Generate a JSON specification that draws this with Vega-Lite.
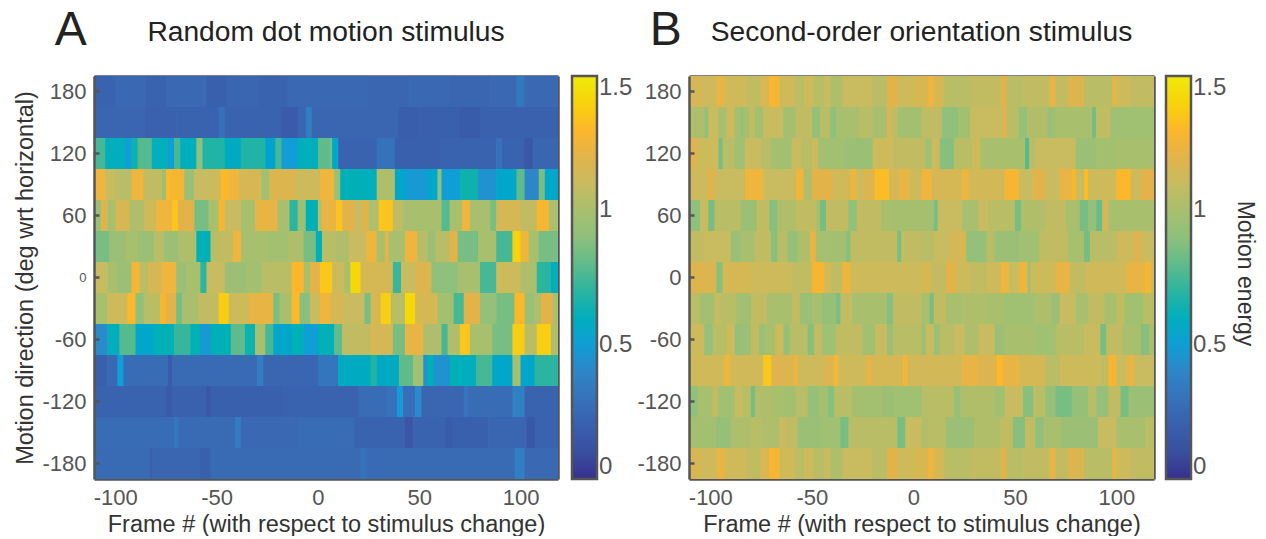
{"$schema":"https://vega.github.io/schema/vega-lite/v6.json","padding":{"left":13,"top":6,"right":10,"bottom":0},"background":"white","bounds":"flush","spacing":131,
"datasets":{
"panelA":[
{"x0":-110.5,"x1":-100,"y":180,"v":0.22},{"x0":-100,"x1":-85,"y":180,"v":0.25},{"x0":-85,"x1":-75,"y":180,"v":0.22},{"x0":-75,"x1":-55,"y":180,"v":0.25},{"x0":-55,"x1":-45,"y":180,"v":0.2},{"x0":-45,"x1":-30,"y":180,"v":0.24},{"x0":-30,"x1":-15,"y":180,"v":0.22},{"x0":-15,"x1":25,"y":180,"v":0.25},{"x0":25,"x1":45,"y":180,"v":0.24},{"x0":45,"x1":65,"y":180,"v":0.25},{"x0":65,"x1":85,"y":180,"v":0.23},{"x0":85,"x1":98,"y":180,"v":0.25},{"x0":98,"x1":102,"y":180,"v":0.33},{"x0":102,"x1":118.5,"y":180,"v":0.25},
{"x0":-110.5,"x1":-85,"y":150,"v":0.23},{"x0":-85,"x1":-70,"y":150,"v":0.21},{"x0":-70,"x1":-49,"y":150,"v":0.22},{"x0":-49,"x1":-46,"y":150,"v":0.3},{"x0":-46,"x1":-18,"y":150,"v":0.22},{"x0":-18,"x1":-10,"y":150,"v":0.17},{"x0":-10,"x1":-6,"y":150,"v":0.24},{"x0":-6,"x1":-3,"y":150,"v":0.36},{"x0":-3,"x1":40,"y":150,"v":0.23},{"x0":40,"x1":50,"y":150,"v":0.19},{"x0":50,"x1":70,"y":150,"v":0.2},{"x0":70,"x1":80,"y":150,"v":0.18},{"x0":80,"x1":118.5,"y":150,"v":0.21},
{"x0":-110.5,"x1":-105,"y":120,"v":0.75},{"x0":-105,"x1":-95,"y":120,"v":0.6},{"x0":-95,"x1":-92,"y":120,"v":0.5},{"x0":-92,"x1":-89,"y":120,"v":0.65},{"x0":-89,"x1":-82,"y":120,"v":0.78},{"x0":-82,"x1":-74,"y":120,"v":0.6},{"x0":-74,"x1":-71,"y":120,"v":0.5},{"x0":-71,"x1":-68,"y":120,"v":0.75},{"x0":-68,"x1":-60,"y":120,"v":0.6},{"x0":-60,"x1":-57,"y":120,"v":0.9},{"x0":-57,"x1":-46,"y":120,"v":0.68},{"x0":-46,"x1":-38,"y":120,"v":0.58},{"x0":-38,"x1":-26,"y":120,"v":0.68},{"x0":-26,"x1":-21,"y":120,"v":0.52},{"x0":-21,"x1":-18,"y":120,"v":0.75},{"x0":-18,"x1":-10,"y":120,"v":0.5},{"x0":-10,"x1":0,"y":120,"v":0.6},{"x0":0,"x1":6,"y":120,"v":0.8},{"x0":6,"x1":7,"y":120,"v":0.85},{"x0":7,"x1":10,"y":120,"v":0.55},{"x0":10,"x1":29,"y":120,"v":0.22},{"x0":29,"x1":38,"y":120,"v":0.3},{"x0":38,"x1":60,"y":120,"v":0.2},{"x0":60,"x1":88,"y":120,"v":0.22},{"x0":88,"x1":91,"y":120,"v":0.3},{"x0":91,"x1":102,"y":120,"v":0.22},{"x0":102,"x1":106,"y":120,"v":0.15},{"x0":106,"x1":118.5,"y":120,"v":0.24},
{"x0":-110.5,"x1":-105,"y":90,"v":1.25},{"x0":-105,"x1":-100,"y":90,"v":1.1},{"x0":-100,"x1":-92,"y":90,"v":1.05},{"x0":-92,"x1":-86,"y":90,"v":1.25},{"x0":-86,"x1":-77,"y":90,"v":1.08},{"x0":-77,"x1":-75,"y":90,"v":0.95},{"x0":-75,"x1":-72,"y":90,"v":1.3},{"x0":-72,"x1":-66,"y":90,"v":1.28},{"x0":-66,"x1":-61,"y":90,"v":0.95},{"x0":-61,"x1":-53,"y":90,"v":1.1},{"x0":-53,"x1":-48,"y":90,"v":1.12},{"x0":-48,"x1":-44,"y":90,"v":1.3},{"x0":-44,"x1":-39,"y":90,"v":1.25},{"x0":-39,"x1":-28,"y":90,"v":1.15},{"x0":-28,"x1":-24,"y":90,"v":0.98},{"x0":-24,"x1":-11,"y":90,"v":1.18},{"x0":-11,"x1":1,"y":90,"v":1.12},{"x0":1,"x1":8,"y":90,"v":1.25},{"x0":8,"x1":11,"y":90,"v":0.95},{"x0":11,"x1":22,"y":90,"v":0.62},{"x0":22,"x1":29,"y":90,"v":0.6},{"x0":29,"x1":38,"y":90,"v":1.02},{"x0":38,"x1":43,"y":90,"v":0.55},{"x0":43,"x1":54,"y":90,"v":0.48},{"x0":54,"x1":59,"y":90,"v":0.55},{"x0":59,"x1":61,"y":90,"v":0.9},{"x0":61,"x1":70,"y":90,"v":0.5},{"x0":70,"x1":79,"y":90,"v":0.65},{"x0":79,"x1":88,"y":90,"v":0.45},{"x0":88,"x1":98,"y":90,"v":0.55},{"x0":98,"x1":102,"y":90,"v":0.8},{"x0":102,"x1":109,"y":90,"v":0.4},{"x0":109,"x1":112,"y":90,"v":0.85},{"x0":112,"x1":118.5,"y":90,"v":0.55},
{"x0":-110.5,"x1":-107,"y":60,"v":0.95},{"x0":-107,"x1":-104,"y":60,"v":1.2},{"x0":-104,"x1":-100,"y":60,"v":1.0},{"x0":-100,"x1":-93,"y":60,"v":1.15},{"x0":-93,"x1":-86,"y":60,"v":1.02},{"x0":-86,"x1":-80,"y":60,"v":1.12},{"x0":-80,"x1":-72,"y":60,"v":1.25},{"x0":-72,"x1":-69,"y":60,"v":1.35},{"x0":-69,"x1":-61,"y":60,"v":1.2},{"x0":-61,"x1":-54,"y":60,"v":0.85},{"x0":-54,"x1":-49,"y":60,"v":1.0},{"x0":-49,"x1":-46,"y":60,"v":1.28},{"x0":-46,"x1":-38,"y":60,"v":1.1},{"x0":-38,"x1":-31,"y":60,"v":1.0},{"x0":-31,"x1":-20,"y":60,"v":1.22},{"x0":-20,"x1":-14,"y":60,"v":1.0},{"x0":-14,"x1":-10,"y":60,"v":0.7},{"x0":-10,"x1":-6,"y":60,"v":0.95},{"x0":-6,"x1":0,"y":60,"v":0.62},{"x0":0,"x1":2,"y":60,"v":1.05},{"x0":2,"x1":9,"y":60,"v":1.22},{"x0":9,"x1":12,"y":60,"v":1.35},{"x0":12,"x1":18,"y":60,"v":1.2},{"x0":18,"x1":22,"y":60,"v":1.1},{"x0":22,"x1":25,"y":60,"v":1.2},{"x0":25,"x1":30,"y":60,"v":1.02},{"x0":30,"x1":37,"y":60,"v":1.35},{"x0":37,"x1":42,"y":60,"v":1.08},{"x0":42,"x1":61,"y":60,"v":1.0},{"x0":61,"x1":65,"y":60,"v":0.78},{"x0":65,"x1":71,"y":60,"v":1.0},{"x0":71,"x1":75,"y":60,"v":1.25},{"x0":75,"x1":85,"y":60,"v":1.0},{"x0":85,"x1":88,"y":60,"v":0.85},{"x0":88,"x1":100,"y":60,"v":1.15},{"x0":100,"x1":108,"y":60,"v":1.08},{"x0":108,"x1":114,"y":60,"v":1.28},{"x0":114,"x1":118.5,"y":60,"v":1.02},
{"x0":-110.5,"x1":-103,"y":30,"v":0.85},{"x0":-103,"x1":-95,"y":30,"v":0.95},{"x0":-95,"x1":-89,"y":30,"v":1.0},{"x0":-89,"x1":-81,"y":30,"v":0.95},{"x0":-81,"x1":-76,"y":30,"v":1.05},{"x0":-76,"x1":-69,"y":30,"v":0.95},{"x0":-69,"x1":-60,"y":30,"v":1.02},{"x0":-60,"x1":-53,"y":30,"v":0.62},{"x0":-53,"x1":-49,"y":30,"v":1.05},{"x0":-49,"x1":-42,"y":30,"v":1.08},{"x0":-42,"x1":-38,"y":30,"v":1.25},{"x0":-38,"x1":-25,"y":30,"v":1.0},{"x0":-25,"x1":-15,"y":30,"v":0.98},{"x0":-15,"x1":-7,"y":30,"v":1.02},{"x0":-7,"x1":-1,"y":30,"v":0.85},{"x0":-1,"x1":2,"y":30,"v":0.6},{"x0":2,"x1":9,"y":30,"v":1.05},{"x0":9,"x1":15,"y":30,"v":1.02},{"x0":15,"x1":24,"y":30,"v":1.1},{"x0":24,"x1":29,"y":30,"v":1.25},{"x0":29,"x1":33,"y":30,"v":1.0},{"x0":33,"x1":35,"y":30,"v":1.2},{"x0":35,"x1":43,"y":30,"v":1.0},{"x0":43,"x1":49,"y":30,"v":1.25},{"x0":49,"x1":54,"y":30,"v":1.05},{"x0":54,"x1":58,"y":30,"v":0.95},{"x0":58,"x1":65,"y":30,"v":1.05},{"x0":65,"x1":69,"y":30,"v":1.2},{"x0":69,"x1":79,"y":30,"v":0.85},{"x0":79,"x1":88,"y":30,"v":1.0},{"x0":88,"x1":96,"y":30,"v":0.75},{"x0":96,"x1":100,"y":30,"v":1.4},{"x0":100,"x1":104,"y":30,"v":1.25},{"x0":104,"x1":109,"y":30,"v":1.0},{"x0":109,"x1":118.5,"y":30,"v":0.85},
{"x0":-110.5,"x1":-104,"y":0,"v":1.1},{"x0":-104,"x1":-99,"y":0,"v":1.0},{"x0":-99,"x1":-92,"y":0,"v":0.95},{"x0":-92,"x1":-88,"y":0,"v":1.28},{"x0":-88,"x1":-84,"y":0,"v":1.05},{"x0":-84,"x1":-77,"y":0,"v":1.15},{"x0":-77,"x1":-70,"y":0,"v":1.25},{"x0":-70,"x1":-65,"y":0,"v":0.95},{"x0":-65,"x1":-58,"y":0,"v":1.0},{"x0":-58,"x1":-55,"y":0,"v":0.7},{"x0":-55,"x1":-46,"y":0,"v":1.1},{"x0":-46,"x1":-36,"y":0,"v":0.95},{"x0":-36,"x1":-28,"y":0,"v":0.98},{"x0":-28,"x1":-13,"y":0,"v":1.05},{"x0":-13,"x1":-7,"y":0,"v":1.3},{"x0":-7,"x1":-4,"y":0,"v":1.0},{"x0":-4,"x1":1,"y":0,"v":1.2},{"x0":1,"x1":7,"y":0,"v":1.36},{"x0":7,"x1":13,"y":0,"v":1.12},{"x0":13,"x1":16,"y":0,"v":1.0},{"x0":16,"x1":21,"y":0,"v":1.42},{"x0":21,"x1":37,"y":0,"v":1.15},{"x0":37,"x1":41,"y":0,"v":0.72},{"x0":41,"x1":48,"y":0,"v":1.1},{"x0":48,"x1":56,"y":0,"v":1.18},{"x0":56,"x1":69,"y":0,"v":0.9},{"x0":69,"x1":80,"y":0,"v":1.0},{"x0":80,"x1":88,"y":0,"v":0.75},{"x0":88,"x1":100,"y":0,"v":1.12},{"x0":100,"x1":108,"y":0,"v":1.02},{"x0":108,"x1":115,"y":0,"v":0.7},{"x0":115,"x1":118.5,"y":0,"v":0.6},
{"x0":-110.5,"x1":-104,"y":-30,"v":1.0},{"x0":-104,"x1":-94,"y":-30,"v":1.12},{"x0":-94,"x1":-90,"y":-30,"v":1.3},{"x0":-90,"x1":-86,"y":-30,"v":0.9},{"x0":-86,"x1":-78,"y":-30,"v":1.05},{"x0":-78,"x1":-75,"y":-30,"v":1.28},{"x0":-75,"x1":-70,"y":-30,"v":1.2},{"x0":-70,"x1":-67,"y":-30,"v":0.85},{"x0":-67,"x1":-59,"y":-30,"v":1.0},{"x0":-59,"x1":-49,"y":-30,"v":1.08},{"x0":-49,"x1":-44,"y":-30,"v":1.38},{"x0":-44,"x1":-34,"y":-30,"v":1.12},{"x0":-34,"x1":-22,"y":-30,"v":1.22},{"x0":-22,"x1":-19,"y":-30,"v":0.85},{"x0":-19,"x1":-13,"y":-30,"v":1.0},{"x0":-13,"x1":-9,"y":-30,"v":1.3},{"x0":-9,"x1":-4,"y":-30,"v":0.88},{"x0":-4,"x1":1,"y":-30,"v":1.1},{"x0":1,"x1":6,"y":-30,"v":1.25},{"x0":6,"x1":13,"y":-30,"v":1.15},{"x0":13,"x1":23,"y":-30,"v":1.1},{"x0":23,"x1":26,"y":-30,"v":0.85},{"x0":26,"x1":31,"y":-30,"v":1.15},{"x0":31,"x1":36,"y":-30,"v":1.38},{"x0":36,"x1":43,"y":-30,"v":1.05},{"x0":43,"x1":48,"y":-30,"v":1.42},{"x0":48,"x1":59,"y":-30,"v":1.15},{"x0":59,"x1":67,"y":-30,"v":0.98},{"x0":67,"x1":72,"y":-30,"v":0.75},{"x0":72,"x1":80,"y":-30,"v":1.2},{"x0":80,"x1":88,"y":-30,"v":0.92},{"x0":88,"x1":97,"y":-30,"v":0.85},{"x0":97,"x1":102,"y":-30,"v":1.3},{"x0":102,"x1":107,"y":-30,"v":0.95},{"x0":107,"x1":110,"y":-30,"v":1.02},{"x0":110,"x1":116,"y":-30,"v":1.2},{"x0":116,"x1":118.5,"y":-30,"v":1.0},
{"x0":-110.5,"x1":-104,"y":-60,"v":0.42},{"x0":-104,"x1":-98,"y":-60,"v":0.6},{"x0":-98,"x1":-90,"y":-60,"v":0.78},{"x0":-90,"x1":-81,"y":-60,"v":0.55},{"x0":-81,"x1":-71,"y":-60,"v":0.62},{"x0":-71,"x1":-63,"y":-60,"v":0.72},{"x0":-63,"x1":-58,"y":-60,"v":0.62},{"x0":-58,"x1":-53,"y":-60,"v":0.48},{"x0":-53,"x1":-43,"y":-60,"v":0.62},{"x0":-43,"x1":-36,"y":-60,"v":0.8},{"x0":-36,"x1":-31,"y":-60,"v":0.65},{"x0":-31,"x1":-26,"y":-60,"v":1.0},{"x0":-26,"x1":-22,"y":-60,"v":0.75},{"x0":-22,"x1":-13,"y":-60,"v":0.55},{"x0":-13,"x1":-7,"y":-60,"v":0.62},{"x0":-7,"x1":0,"y":-60,"v":0.5},{"x0":0,"x1":8,"y":-60,"v":0.62},{"x0":8,"x1":12,"y":-60,"v":0.8},{"x0":12,"x1":26,"y":-60,"v":1.08},{"x0":26,"x1":37,"y":-60,"v":1.15},{"x0":37,"x1":43,"y":-60,"v":0.85},{"x0":43,"x1":52,"y":-60,"v":1.22},{"x0":52,"x1":61,"y":-60,"v":1.02},{"x0":61,"x1":64,"y":-60,"v":0.75},{"x0":64,"x1":70,"y":-60,"v":1.02},{"x0":70,"x1":75,"y":-60,"v":1.35},{"x0":75,"x1":86,"y":-60,"v":1.0},{"x0":86,"x1":96,"y":-60,"v":0.85},{"x0":96,"x1":102,"y":-60,"v":1.38},{"x0":102,"x1":108,"y":-60,"v":1.05},{"x0":108,"x1":115,"y":-60,"v":1.38},{"x0":115,"x1":118.5,"y":-60,"v":1.02},
{"x0":-110.5,"x1":-104,"y":-90,"v":0.2},{"x0":-104,"x1":-99,"y":-90,"v":0.25},{"x0":-99,"x1":-96,"y":-90,"v":0.5},{"x0":-96,"x1":-74,"y":-90,"v":0.27},{"x0":-74,"x1":-72,"y":-90,"v":0.18},{"x0":-72,"x1":-30,"y":-90,"v":0.26},{"x0":-30,"x1":-27,"y":-90,"v":0.35},{"x0":-27,"x1":0,"y":-90,"v":0.24},{"x0":0,"x1":10,"y":-90,"v":0.32},{"x0":10,"x1":26,"y":-90,"v":0.58},{"x0":26,"x1":29,"y":-90,"v":0.68},{"x0":29,"x1":40,"y":-90,"v":0.58},{"x0":40,"x1":47,"y":-90,"v":0.8},{"x0":47,"x1":52,"y":-90,"v":0.98},{"x0":52,"x1":54,"y":-90,"v":0.45},{"x0":54,"x1":57,"y":-90,"v":0.62},{"x0":57,"x1":65,"y":-90,"v":0.45},{"x0":65,"x1":69,"y":-90,"v":0.62},{"x0":69,"x1":78,"y":-90,"v":0.6},{"x0":78,"x1":86,"y":-90,"v":0.75},{"x0":86,"x1":96,"y":-90,"v":0.55},{"x0":96,"x1":100,"y":-90,"v":0.98},{"x0":100,"x1":107,"y":-90,"v":0.55},{"x0":107,"x1":118.5,"y":-90,"v":0.7},
{"x0":-110.5,"x1":-75,"y":-120,"v":0.22},{"x0":-75,"x1":-72,"y":-120,"v":0.17},{"x0":-72,"x1":-55,"y":-120,"v":0.21},{"x0":-55,"x1":-53,"y":-120,"v":0.15},{"x0":-53,"x1":-18,"y":-120,"v":0.2},{"x0":-18,"x1":20,"y":-120,"v":0.22},{"x0":20,"x1":34,"y":-120,"v":0.27},{"x0":34,"x1":39,"y":-120,"v":0.3},{"x0":39,"x1":42,"y":-120,"v":0.48},{"x0":42,"x1":48,"y":-120,"v":0.28},{"x0":48,"x1":51,"y":-120,"v":0.42},{"x0":51,"x1":72,"y":-120,"v":0.24},{"x0":72,"x1":74,"y":-120,"v":0.32},{"x0":74,"x1":96,"y":-120,"v":0.27},{"x0":96,"x1":102,"y":-120,"v":0.37},{"x0":102,"x1":118.5,"y":-120,"v":0.22},
{"x0":-110.5,"x1":-71,"y":-150,"v":0.27},{"x0":-71,"x1":-69,"y":-150,"v":0.33},{"x0":-69,"x1":-41,"y":-150,"v":0.26},{"x0":-41,"x1":-38,"y":-150,"v":0.35},{"x0":-38,"x1":-10,"y":-150,"v":0.25},{"x0":-10,"x1":18,"y":-150,"v":0.27},{"x0":18,"x1":43,"y":-150,"v":0.22},{"x0":43,"x1":47,"y":-150,"v":0.14},{"x0":47,"x1":63,"y":-150,"v":0.22},{"x0":63,"x1":66,"y":-150,"v":0.18},{"x0":66,"x1":84,"y":-150,"v":0.2},{"x0":84,"x1":103,"y":-150,"v":0.23},{"x0":103,"x1":107,"y":-150,"v":0.16},{"x0":107,"x1":118.5,"y":-150,"v":0.22},
{"x0":-110.5,"x1":-83,"y":-180,"v":0.26},{"x0":-83,"x1":-82,"y":-180,"v":0.2},{"x0":-82,"x1":-58,"y":-180,"v":0.24},{"x0":-58,"x1":-53,"y":-180,"v":0.2},{"x0":-53,"x1":21,"y":-180,"v":0.26},{"x0":21,"x1":24,"y":-180,"v":0.3},{"x0":24,"x1":97,"y":-180,"v":0.26},{"x0":97,"x1":102,"y":-180,"v":0.36},{"x0":102,"x1":118.5,"y":-180,"v":0.25}
],
"panelB":[
{"x0":-110.5,"x1":-104,"y":180,"v":1.15},{"x0":-104,"x1":-97,"y":180,"v":1.12},{"x0":-97,"x1":-93,"y":180,"v":1.22},{"x0":-93,"x1":-82,"y":180,"v":1.13},{"x0":-82,"x1":-75,"y":180,"v":1.08},{"x0":-75,"x1":-71,"y":180,"v":1.17},{"x0":-71,"x1":-66,"y":180,"v":1.28},{"x0":-66,"x1":-58,"y":180,"v":1.13},{"x0":-58,"x1":-54,"y":180,"v":1.05},{"x0":-54,"x1":-49,"y":180,"v":1.12},{"x0":-49,"x1":-44,"y":180,"v":1.05},{"x0":-44,"x1":-41,"y":180,"v":1.1},{"x0":-41,"x1":-35,"y":180,"v":1.02},{"x0":-35,"x1":-20,"y":180,"v":1.1},{"x0":-20,"x1":-13,"y":180,"v":1.05},{"x0":-13,"x1":-8,"y":180,"v":1.2},{"x0":-8,"x1":0,"y":180,"v":1.12},{"x0":0,"x1":7,"y":180,"v":1.16},{"x0":7,"x1":10,"y":180,"v":1.25},{"x0":10,"x1":15,"y":180,"v":1.15},{"x0":15,"x1":28,"y":180,"v":1.05},{"x0":28,"x1":43,"y":180,"v":1.08},{"x0":43,"x1":46,"y":180,"v":1.2},{"x0":46,"x1":54,"y":180,"v":1.05},{"x0":54,"x1":67,"y":180,"v":1.08},{"x0":67,"x1":70,"y":180,"v":1.22},{"x0":70,"x1":76,"y":180,"v":1.08},{"x0":76,"x1":84,"y":180,"v":1.18},{"x0":84,"x1":98,"y":180,"v":1.05},{"x0":98,"x1":100,"y":180,"v":1.22},{"x0":100,"x1":107,"y":180,"v":1.12},{"x0":107,"x1":118.5,"y":180,"v":1.08},
{"x0":-110.5,"x1":-103,"y":150,"v":1.02},{"x0":-103,"x1":-101,"y":150,"v":0.92},{"x0":-101,"x1":-96,"y":150,"v":1.1},{"x0":-96,"x1":-92,"y":150,"v":1.0},{"x0":-92,"x1":-88,"y":150,"v":1.12},{"x0":-88,"x1":-85,"y":150,"v":0.98},{"x0":-85,"x1":-84,"y":150,"v":0.92},{"x0":-84,"x1":-81,"y":150,"v":0.98},{"x0":-81,"x1":-78,"y":150,"v":1.08},{"x0":-78,"x1":-74,"y":150,"v":0.98},{"x0":-74,"x1":-64,"y":150,"v":1.1},{"x0":-64,"x1":-58,"y":150,"v":0.98},{"x0":-58,"x1":-50,"y":150,"v":1.08},{"x0":-50,"x1":-46,"y":150,"v":0.93},{"x0":-46,"x1":-41,"y":150,"v":1.05},{"x0":-41,"x1":-38,"y":150,"v":0.9},{"x0":-38,"x1":-27,"y":150,"v":1.0},{"x0":-27,"x1":-20,"y":150,"v":1.05},{"x0":-20,"x1":-13,"y":150,"v":1.0},{"x0":-13,"x1":-11,"y":150,"v":1.18},{"x0":-11,"x1":-8,"y":150,"v":1.08},{"x0":-8,"x1":4,"y":150,"v":0.98},{"x0":4,"x1":14,"y":150,"v":1.08},{"x0":14,"x1":22,"y":150,"v":0.9},{"x0":22,"x1":28,"y":150,"v":0.98},{"x0":28,"x1":44,"y":150,"v":1.1},{"x0":44,"x1":46,"y":150,"v":1.2},{"x0":46,"x1":52,"y":150,"v":1.05},{"x0":52,"x1":56,"y":150,"v":0.92},{"x0":56,"x1":66,"y":150,"v":1.03},{"x0":66,"x1":70,"y":150,"v":0.95},{"x0":70,"x1":88,"y":150,"v":1.0},{"x0":88,"x1":90,"y":150,"v":0.85},{"x0":90,"x1":97,"y":150,"v":1.08},{"x0":97,"x1":118.5,"y":150,"v":0.97},
{"x0":-110.5,"x1":-107,"y":120,"v":1.2},{"x0":-107,"x1":-96,"y":120,"v":1.12},{"x0":-96,"x1":-94,"y":120,"v":0.85},{"x0":-94,"x1":-88,"y":120,"v":1.05},{"x0":-88,"x1":-83,"y":120,"v":0.97},{"x0":-83,"x1":-75,"y":120,"v":1.1},{"x0":-75,"x1":-70,"y":120,"v":1.05},{"x0":-70,"x1":-60,"y":120,"v":0.98},{"x0":-60,"x1":-55,"y":120,"v":1.1},{"x0":-55,"x1":-50,"y":120,"v":1.05},{"x0":-50,"x1":-47,"y":120,"v":1.12},{"x0":-47,"x1":-33,"y":120,"v":0.98},{"x0":-33,"x1":-20,"y":120,"v":0.95},{"x0":-20,"x1":-10,"y":120,"v":1.12},{"x0":-10,"x1":6,"y":120,"v":1.08},{"x0":6,"x1":9,"y":120,"v":0.97},{"x0":9,"x1":13,"y":120,"v":1.12},{"x0":13,"x1":20,"y":120,"v":0.88},{"x0":20,"x1":29,"y":120,"v":1.05},{"x0":29,"x1":33,"y":120,"v":1.13},{"x0":33,"x1":55,"y":120,"v":1.0},{"x0":55,"x1":57,"y":120,"v":0.78},{"x0":57,"x1":60,"y":120,"v":1.05},{"x0":60,"x1":80,"y":120,"v":1.1},{"x0":80,"x1":90,"y":120,"v":0.95},{"x0":90,"x1":100,"y":120,"v":0.98},{"x0":100,"x1":118.5,"y":120,"v":1.0},
{"x0":-110.5,"x1":-101,"y":90,"v":1.12},{"x0":-101,"x1":-98,"y":90,"v":1.2},{"x0":-98,"x1":-83,"y":90,"v":1.1},{"x0":-83,"x1":-74,"y":90,"v":1.25},{"x0":-74,"x1":-58,"y":90,"v":1.1},{"x0":-58,"x1":-54,"y":90,"v":1.25},{"x0":-54,"x1":-50,"y":90,"v":1.02},{"x0":-50,"x1":-40,"y":90,"v":1.2},{"x0":-40,"x1":-31,"y":90,"v":1.13},{"x0":-31,"x1":-28,"y":90,"v":1.25},{"x0":-28,"x1":-25,"y":90,"v":1.1},{"x0":-25,"x1":-19,"y":90,"v":1.18},{"x0":-19,"x1":-12,"y":90,"v":1.32},{"x0":-12,"x1":-7,"y":90,"v":1.15},{"x0":-7,"x1":-2,"y":90,"v":1.22},{"x0":-2,"x1":4,"y":90,"v":1.12},{"x0":4,"x1":9,"y":90,"v":1.25},{"x0":9,"x1":24,"y":90,"v":1.15},{"x0":24,"x1":27,"y":90,"v":1.25},{"x0":27,"x1":45,"y":90,"v":1.14},{"x0":45,"x1":52,"y":90,"v":1.28},{"x0":52,"x1":59,"y":90,"v":1.1},{"x0":59,"x1":65,"y":90,"v":1.2},{"x0":65,"x1":72,"y":90,"v":1.1},{"x0":72,"x1":78,"y":90,"v":1.22},{"x0":78,"x1":80,"y":90,"v":1.3},{"x0":80,"x1":84,"y":90,"v":1.1},{"x0":84,"x1":86,"y":90,"v":1.32},{"x0":86,"x1":100,"y":90,"v":1.12},{"x0":100,"x1":107,"y":90,"v":1.3},{"x0":107,"x1":112,"y":90,"v":1.12},{"x0":112,"x1":118.5,"y":90,"v":1.2},
{"x0":-110.5,"x1":-105,"y":60,"v":0.9},{"x0":-105,"x1":-101,"y":60,"v":1.1},{"x0":-101,"x1":-98,"y":60,"v":0.85},{"x0":-98,"x1":-85,"y":60,"v":1.05},{"x0":-85,"x1":-77,"y":60,"v":0.95},{"x0":-77,"x1":-71,"y":60,"v":1.08},{"x0":-71,"x1":-67,"y":60,"v":0.88},{"x0":-67,"x1":-58,"y":60,"v":1.02},{"x0":-58,"x1":-48,"y":60,"v":1.08},{"x0":-48,"x1":-46,"y":60,"v":1.0},{"x0":-46,"x1":-43,"y":60,"v":0.85},{"x0":-43,"x1":-32,"y":60,"v":1.08},{"x0":-32,"x1":-28,"y":60,"v":0.9},{"x0":-28,"x1":-16,"y":60,"v":1.08},{"x0":-16,"x1":-10,"y":60,"v":1.0},{"x0":-10,"x1":10,"y":60,"v":0.99},{"x0":10,"x1":12,"y":60,"v":0.85},{"x0":12,"x1":24,"y":60,"v":1.1},{"x0":24,"x1":32,"y":60,"v":1.0},{"x0":32,"x1":37,"y":60,"v":1.1},{"x0":37,"x1":50,"y":60,"v":1.05},{"x0":50,"x1":53,"y":60,"v":0.85},{"x0":53,"x1":65,"y":60,"v":1.03},{"x0":65,"x1":75,"y":60,"v":1.08},{"x0":75,"x1":82,"y":60,"v":1.0},{"x0":82,"x1":86,"y":60,"v":0.85},{"x0":86,"x1":90,"y":60,"v":0.92},{"x0":90,"x1":93,"y":60,"v":0.82},{"x0":93,"x1":96,"y":60,"v":1.15},{"x0":96,"x1":118.5,"y":60,"v":1.0},
{"x0":-110.5,"x1":-103,"y":30,"v":1.08},{"x0":-103,"x1":-90,"y":30,"v":1.1},{"x0":-90,"x1":-85,"y":30,"v":0.95},{"x0":-85,"x1":-78,"y":30,"v":1.0},{"x0":-78,"x1":-70,"y":30,"v":1.08},{"x0":-70,"x1":-67,"y":30,"v":0.88},{"x0":-67,"x1":-62,"y":30,"v":1.05},{"x0":-62,"x1":-57,"y":30,"v":0.92},{"x0":-57,"x1":-51,"y":30,"v":1.02},{"x0":-51,"x1":-48,"y":30,"v":1.22},{"x0":-48,"x1":-44,"y":30,"v":1.0},{"x0":-44,"x1":-33,"y":30,"v":0.98},{"x0":-33,"x1":-31,"y":30,"v":0.88},{"x0":-31,"x1":-8,"y":30,"v":1.08},{"x0":-8,"x1":-6,"y":30,"v":0.85},{"x0":-6,"x1":4,"y":30,"v":1.08},{"x0":4,"x1":10,"y":30,"v":1.05},{"x0":10,"x1":18,"y":30,"v":1.1},{"x0":18,"x1":26,"y":30,"v":1.15},{"x0":26,"x1":36,"y":30,"v":0.92},{"x0":36,"x1":40,"y":30,"v":1.05},{"x0":40,"x1":52,"y":30,"v":0.95},{"x0":52,"x1":62,"y":30,"v":0.97},{"x0":62,"x1":76,"y":30,"v":1.08},{"x0":76,"x1":84,"y":30,"v":1.0},{"x0":84,"x1":87,"y":30,"v":0.85},{"x0":87,"x1":100,"y":30,"v":1.05},{"x0":100,"x1":109,"y":30,"v":1.12},{"x0":109,"x1":112,"y":30,"v":1.2},{"x0":112,"x1":118.5,"y":30,"v":1.1},
{"x0":-110.5,"x1":-97,"y":0,"v":1.18},{"x0":-97,"x1":-94,"y":0,"v":0.88},{"x0":-94,"x1":-80,"y":0,"v":1.15},{"x0":-80,"x1":-60,"y":0,"v":1.12},{"x0":-60,"x1":-50,"y":0,"v":1.08},{"x0":-50,"x1":-44,"y":0,"v":1.28},{"x0":-44,"x1":-41,"y":0,"v":1.15},{"x0":-41,"x1":-35,"y":0,"v":1.08},{"x0":-35,"x1":-31,"y":0,"v":1.25},{"x0":-31,"x1":4,"y":0,"v":1.12},{"x0":4,"x1":9,"y":0,"v":1.15},{"x0":9,"x1":16,"y":0,"v":1.08},{"x0":16,"x1":21,"y":0,"v":1.2},{"x0":21,"x1":28,"y":0,"v":1.12},{"x0":28,"x1":36,"y":0,"v":1.08},{"x0":36,"x1":43,"y":0,"v":1.12},{"x0":43,"x1":47,"y":0,"v":1.25},{"x0":47,"x1":52,"y":0,"v":1.1},{"x0":52,"x1":56,"y":0,"v":1.25},{"x0":56,"x1":58,"y":0,"v":1.0},{"x0":58,"x1":70,"y":0,"v":1.12},{"x0":70,"x1":77,"y":0,"v":1.22},{"x0":77,"x1":85,"y":0,"v":1.08},{"x0":85,"x1":105,"y":0,"v":1.13},{"x0":105,"x1":114,"y":0,"v":1.22},{"x0":114,"x1":117,"y":0,"v":1.28},{"x0":117,"x1":118.5,"y":0,"v":1.12},
{"x0":-110.5,"x1":-105,"y":-30,"v":1.05},{"x0":-105,"x1":-98,"y":-30,"v":0.98},{"x0":-98,"x1":-95,"y":-30,"v":1.1},{"x0":-95,"x1":-87,"y":-30,"v":1.05},{"x0":-87,"x1":-80,"y":-30,"v":0.97},{"x0":-80,"x1":-72,"y":-30,"v":1.08},{"x0":-72,"x1":-60,"y":-30,"v":1.0},{"x0":-60,"x1":-56,"y":-30,"v":1.08},{"x0":-56,"x1":-50,"y":-30,"v":0.95},{"x0":-50,"x1":-45,"y":-30,"v":1.0},{"x0":-45,"x1":-38,"y":-30,"v":0.93},{"x0":-38,"x1":-36,"y":-30,"v":0.85},{"x0":-36,"x1":-30,"y":-30,"v":1.08},{"x0":-30,"x1":-13,"y":-30,"v":1.0},{"x0":-13,"x1":-10,"y":-30,"v":0.88},{"x0":-10,"x1":4,"y":-30,"v":1.08},{"x0":4,"x1":8,"y":-30,"v":1.0},{"x0":8,"x1":10,"y":-30,"v":0.85},{"x0":10,"x1":16,"y":-30,"v":1.08},{"x0":16,"x1":24,"y":-30,"v":1.0},{"x0":24,"x1":36,"y":-30,"v":1.02},{"x0":36,"x1":45,"y":-30,"v":1.0},{"x0":45,"x1":60,"y":-30,"v":0.97},{"x0":60,"x1":68,"y":-30,"v":1.02},{"x0":68,"x1":72,"y":-30,"v":0.95},{"x0":72,"x1":80,"y":-30,"v":1.1},{"x0":80,"x1":86,"y":-30,"v":1.0},{"x0":86,"x1":94,"y":-30,"v":1.08},{"x0":94,"x1":100,"y":-30,"v":1.0},{"x0":100,"x1":104,"y":-30,"v":1.08},{"x0":104,"x1":113,"y":-30,"v":0.97},{"x0":113,"x1":118.5,"y":-30,"v":1.05},
{"x0":-110.5,"x1":-103,"y":-60,"v":1.12},{"x0":-103,"x1":-99,"y":-60,"v":0.92},{"x0":-99,"x1":-92,"y":-60,"v":1.05},{"x0":-92,"x1":-88,"y":-60,"v":1.12},{"x0":-88,"x1":-85,"y":-60,"v":0.92},{"x0":-85,"x1":-80,"y":-60,"v":0.95},{"x0":-80,"x1":-76,"y":-60,"v":1.08},{"x0":-76,"x1":-73,"y":-60,"v":0.95},{"x0":-73,"x1":-68,"y":-60,"v":1.0},{"x0":-68,"x1":-64,"y":-60,"v":1.12},{"x0":-64,"x1":-61,"y":-60,"v":0.92},{"x0":-61,"x1":-52,"y":-60,"v":1.05},{"x0":-52,"x1":-49,"y":-60,"v":0.88},{"x0":-49,"x1":-45,"y":-60,"v":1.08},{"x0":-45,"x1":-38,"y":-60,"v":0.97},{"x0":-38,"x1":-25,"y":-60,"v":1.08},{"x0":-25,"x1":-19,"y":-60,"v":0.97},{"x0":-19,"x1":-13,"y":-60,"v":1.1},{"x0":-13,"x1":-10,"y":-60,"v":0.95},{"x0":-10,"x1":4,"y":-60,"v":1.05},{"x0":4,"x1":6,"y":-60,"v":0.95},{"x0":6,"x1":10,"y":-60,"v":1.1},{"x0":10,"x1":13,"y":-60,"v":0.95},{"x0":13,"x1":20,"y":-60,"v":1.05},{"x0":20,"x1":25,"y":-60,"v":1.1},{"x0":25,"x1":32,"y":-60,"v":1.02},{"x0":32,"x1":40,"y":-60,"v":1.1},{"x0":40,"x1":45,"y":-60,"v":0.95},{"x0":45,"x1":60,"y":-60,"v":1.0},{"x0":60,"x1":70,"y":-60,"v":0.97},{"x0":70,"x1":84,"y":-60,"v":1.05},{"x0":84,"x1":92,"y":-60,"v":1.1},{"x0":92,"x1":95,"y":-60,"v":0.85},{"x0":95,"x1":103,"y":-60,"v":1.08},{"x0":103,"x1":112,"y":-60,"v":1.0},{"x0":112,"x1":116,"y":-60,"v":0.88},{"x0":116,"x1":118.5,"y":-60,"v":1.0},
{"x0":-110.5,"x1":-93,"y":-90,"v":1.13},{"x0":-93,"x1":-90,"y":-90,"v":1.25},{"x0":-90,"x1":-74,"y":-90,"v":1.13},{"x0":-74,"x1":-70,"y":-90,"v":1.36},{"x0":-70,"x1":-59,"y":-90,"v":1.18},{"x0":-59,"x1":-57,"y":-90,"v":1.24},{"x0":-57,"x1":-44,"y":-90,"v":1.12},{"x0":-44,"x1":-39,"y":-90,"v":1.18},{"x0":-39,"x1":-37,"y":-90,"v":1.28},{"x0":-37,"x1":-23,"y":-90,"v":1.12},{"x0":-23,"x1":-21,"y":-90,"v":1.22},{"x0":-21,"x1":-5,"y":-90,"v":1.15},{"x0":-5,"x1":-3,"y":-90,"v":1.28},{"x0":-3,"x1":24,"y":-90,"v":1.14},{"x0":24,"x1":32,"y":-90,"v":1.22},{"x0":32,"x1":41,"y":-90,"v":1.18},{"x0":41,"x1":44,"y":-90,"v":1.3},{"x0":44,"x1":52,"y":-90,"v":1.22},{"x0":52,"x1":65,"y":-90,"v":1.15},{"x0":65,"x1":72,"y":-90,"v":1.05},{"x0":72,"x1":92,"y":-90,"v":1.12},{"x0":92,"x1":96,"y":-90,"v":1.08},{"x0":96,"x1":100,"y":-90,"v":1.28},{"x0":100,"x1":105,"y":-90,"v":1.1},{"x0":105,"x1":109,"y":-90,"v":1.22},{"x0":109,"x1":118.5,"y":-90,"v":1.1},
{"x0":-110.5,"x1":-106,"y":-120,"v":0.92},{"x0":-106,"x1":-99,"y":-120,"v":1.0},{"x0":-99,"x1":-96,"y":-120,"v":1.08},{"x0":-96,"x1":-88,"y":-120,"v":0.97},{"x0":-88,"x1":-84,"y":-120,"v":1.1},{"x0":-84,"x1":-80,"y":-120,"v":1.05},{"x0":-80,"x1":-78,"y":-120,"v":0.85},{"x0":-78,"x1":-70,"y":-120,"v":1.03},{"x0":-70,"x1":-64,"y":-120,"v":1.0},{"x0":-64,"x1":-58,"y":-120,"v":0.98},{"x0":-58,"x1":-52,"y":-120,"v":1.05},{"x0":-52,"x1":-47,"y":-120,"v":0.93},{"x0":-47,"x1":-42,"y":-120,"v":0.98},{"x0":-42,"x1":-39,"y":-120,"v":0.88},{"x0":-39,"x1":-30,"y":-120,"v":1.05},{"x0":-30,"x1":-15,"y":-120,"v":0.98},{"x0":-15,"x1":-10,"y":-120,"v":0.95},{"x0":-10,"x1":4,"y":-120,"v":0.97},{"x0":4,"x1":20,"y":-120,"v":1.05},{"x0":20,"x1":23,"y":-120,"v":0.93},{"x0":23,"x1":40,"y":-120,"v":1.03},{"x0":40,"x1":45,"y":-120,"v":0.97},{"x0":45,"x1":54,"y":-120,"v":1.1},{"x0":54,"x1":59,"y":-120,"v":0.88},{"x0":59,"x1":65,"y":-120,"v":1.05},{"x0":65,"x1":70,"y":-120,"v":0.93},{"x0":70,"x1":78,"y":-120,"v":0.85},{"x0":78,"x1":86,"y":-120,"v":0.93},{"x0":86,"x1":90,"y":-120,"v":1.05},{"x0":90,"x1":96,"y":-120,"v":0.93},{"x0":96,"x1":102,"y":-120,"v":1.08},{"x0":102,"x1":106,"y":-120,"v":0.85},{"x0":106,"x1":118.5,"y":-120,"v":0.95},
{"x0":-110.5,"x1":-97,"y":-150,"v":0.98},{"x0":-97,"x1":-90,"y":-150,"v":0.93},{"x0":-90,"x1":-80,"y":-150,"v":1.02},{"x0":-80,"x1":-75,"y":-150,"v":1.05},{"x0":-75,"x1":-66,"y":-150,"v":1.02},{"x0":-66,"x1":-63,"y":-150,"v":1.1},{"x0":-63,"x1":-57,"y":-150,"v":1.08},{"x0":-57,"x1":-45,"y":-150,"v":0.95},{"x0":-45,"x1":-36,"y":-150,"v":0.97},{"x0":-36,"x1":-32,"y":-150,"v":0.85},{"x0":-32,"x1":-8,"y":-150,"v":1.05},{"x0":-8,"x1":-4,"y":-150,"v":0.85},{"x0":-4,"x1":4,"y":-150,"v":1.1},{"x0":4,"x1":7,"y":-150,"v":1.02},{"x0":7,"x1":16,"y":-150,"v":1.05},{"x0":16,"x1":30,"y":-150,"v":0.95},{"x0":30,"x1":43,"y":-150,"v":1.03},{"x0":43,"x1":49,"y":-150,"v":1.08},{"x0":49,"x1":55,"y":-150,"v":0.88},{"x0":55,"x1":60,"y":-150,"v":1.08},{"x0":60,"x1":64,"y":-150,"v":0.9},{"x0":64,"x1":73,"y":-150,"v":1.0},{"x0":73,"x1":91,"y":-150,"v":0.95},{"x0":91,"x1":100,"y":-150,"v":1.1},{"x0":100,"x1":114,"y":-150,"v":1.0},{"x0":114,"x1":118.5,"y":-150,"v":1.05},
{"x0":-110.5,"x1":-104,"y":-180,"v":1.15},{"x0":-104,"x1":-97,"y":-180,"v":1.12},{"x0":-97,"x1":-93,"y":-180,"v":1.22},{"x0":-93,"x1":-82,"y":-180,"v":1.13},{"x0":-82,"x1":-75,"y":-180,"v":1.08},{"x0":-75,"x1":-71,"y":-180,"v":1.17},{"x0":-71,"x1":-66,"y":-180,"v":1.28},{"x0":-66,"x1":-58,"y":-180,"v":1.13},{"x0":-58,"x1":-54,"y":-180,"v":1.05},{"x0":-54,"x1":-49,"y":-180,"v":1.12},{"x0":-49,"x1":-44,"y":-180,"v":1.05},{"x0":-44,"x1":-41,"y":-180,"v":1.1},{"x0":-41,"x1":-35,"y":-180,"v":1.02},{"x0":-35,"x1":-20,"y":-180,"v":1.1},{"x0":-20,"x1":-13,"y":-180,"v":1.05},{"x0":-13,"x1":-8,"y":-180,"v":1.2},{"x0":-8,"x1":0,"y":-180,"v":1.12},{"x0":0,"x1":7,"y":-180,"v":1.16},{"x0":7,"x1":10,"y":-180,"v":1.25},{"x0":10,"x1":15,"y":-180,"v":1.15},{"x0":15,"x1":28,"y":-180,"v":1.05},{"x0":28,"x1":43,"y":-180,"v":1.08},{"x0":43,"x1":46,"y":-180,"v":1.2},{"x0":46,"x1":54,"y":-180,"v":1.05},{"x0":54,"x1":67,"y":-180,"v":1.08},{"x0":67,"x1":70,"y":-180,"v":1.22},{"x0":70,"x1":76,"y":-180,"v":1.08},{"x0":76,"x1":84,"y":-180,"v":1.18},{"x0":84,"x1":98,"y":-180,"v":1.05},{"x0":98,"x1":100,"y":-180,"v":1.22},{"x0":100,"x1":107,"y":-180,"v":1.12},{"x0":107,"x1":118.5,"y":-180,"v":1.08}
]
},
"config":{"view":{"stroke":null},"font":"Liberation Sans",
"axis":{"grid":false,"domainColor":"#555555","domainWidth":2.5,"tickColor":"#555555","tickWidth":2.5,"tickSize":-5,"labelColor":"#555555","titleColor":"#333333","labelFont":"Liberation Sans","titleFont":"Liberation Sans","labelFontSize":22,"titleFontSize":23.5,"titleFontWeight":"normal","labelPadding":13},
"title":{"font":"Liberation Sans","fontSize":28.2,"fontWeight":"normal","color":"#222222","anchor":"middle","offset":-41},
"legend":{"offset":12,"gradientLength":403,"gradientThickness":25,"gradientStrokeColor":"#555555","gradientStrokeWidth":2.5,"labelFontSize":24,"labelColor":"#555555","labelFont":"Liberation Sans","labelOverlap":false,"labelOffset":14}},
"resolve":{"scale":{"color":"independent"},"legend":{"color":"independent"}},
"hconcat":[
{"width":464,"height":403,"title":"Random dot motion stimulus","resolve":{"axis":{"x":"independent","y":"independent"}},
"layer":[
{"data":{"name":"panelA"},"mark":{"type":"rect","stroke":null,"x2Offset":0.7,"clip":true},
"encoding":{
"x":{"field":"x0","type":"quantitative","scale":{"domain":[-110.5,118.5],"nice":false,"zero":false},"axis":{"values":[-100,-50,0,50,100],"labelExpr":"toString(datum.value)","title":"Frame # (with respect to stimulus change)","titlePadding":4,"labelFlush":false}},
"x2":{"field":"x1"},
"y":{"field":"y","type":"ordinal","scale":{"domain":[180,150,120,90,60,30,0,-30,-60,-90,-120,-150,-180],"paddingInner":0,"paddingOuter":0},"axis":{"values":[180,120,60,0,-60,-120,-180],"labelAngle":0,"title":"Motion direction (deg wrt horizontal)","titlePadding":4,"labelFontSize":{"expr":"datum.value===0?13:22"}}},
"color":{"field":"v","type":"quantitative","scale":{"domain":[0,0.1,0.25,0.4,0.5,0.6,0.7,0.8,0.9,1,1.1,1.2,1.3,1.4,1.5],"range":["#37308c","#3a4fa0","#3a68b2","#2e86c8","#0f9ed5","#00aebc","#2bb5a0","#5fbb8b","#8fc07c","#a8bf6e","#c8bb60","#e3b34a","#fcb72a","#f7d30a","#f0ea0a"]},"legend":{"title":null,"values":[0,0.5,1,1.5],"format":"~g","orient":"right","encoding":{"labels":{"baseline":"middle","dy":{"expr":"datum.value===0?-6:-3"}}}}}}},
{"data":{"values":[{"x":-122,"y":180,"label":"A"}]},"mark":{"type":"text","font":"Liberation Sans","fontSize":48,"color":"#222222","dy":-61,"align":"center","clip":false},
"encoding":{
"x":{"field":"x","type":"quantitative","scale":{"domain":[-110.5,118.5],"nice":false,"zero":false},"axis":{"orient":"top","values":[-100,-50,0,50,100],"labels":false,"title":null}},
"y":{"field":"y","type":"ordinal","scale":{"domain":[180,150,120,90,60,30,0,-30,-60,-90,-120,-150,-180],"paddingInner":0,"paddingOuter":0},"axis":{"orient":"right","values":[180,120,60,0,-60,-120,-180],"labels":false,"title":null}},
"text":{"field":"label"}}}
]},
{"width":465,"height":403,"title":"Second-order orientation stimulus","resolve":{"axis":{"x":"independent","y":"independent"}},
"layer":[
{"data":{"name":"panelB"},"mark":{"type":"rect","stroke":null,"x2Offset":0.7,"clip":true},
"encoding":{
"x":{"field":"x0","type":"quantitative","scale":{"domain":[-110.5,118.5],"nice":false,"zero":false},"axis":{"values":[-100,-50,0,50,100],"labelExpr":"toString(datum.value)","title":"Frame # (with respect to stimulus change)","titlePadding":4,"labelFlush":false}},
"x2":{"field":"x1"},
"y":{"field":"y","type":"ordinal","scale":{"domain":[180,150,120,90,60,30,0,-30,-60,-90,-120,-150,-180],"paddingInner":0,"paddingOuter":0},"axis":{"values":[180,120,60,0,-60,-120,-180],"labelAngle":0,"title":null}},
"color":{"field":"v","type":"quantitative","scale":{"domain":[0,0.1,0.25,0.4,0.5,0.6,0.7,0.8,0.9,1,1.1,1.2,1.3,1.4,1.5],"range":["#37308c","#3a4fa0","#3a68b2","#2e86c8","#0f9ed5","#00aebc","#2bb5a0","#5fbb8b","#8fc07c","#a8bf6e","#c8bb60","#e3b34a","#fcb72a","#f7d30a","#f0ea0a"]},"legend":{"title":null,"values":[0,0.5,1,1.5],"format":"~g","orient":"none","legendX":477,"legendY":0,"encoding":{"labels":{"baseline":"middle","dy":{"expr":"datum.value===0?-6:-3"}}}}}}},
{"data":{"values":[{"x":-122,"y":180,"label":"B"}]},"mark":{"type":"text","font":"Liberation Sans","fontSize":48,"color":"#222222","dy":-61,"align":"center","clip":false},
"encoding":{
"x":{"field":"x","type":"quantitative","scale":{"domain":[-110.5,118.5],"nice":false,"zero":false},"axis":{"orient":"top","values":[-100,-50,0,50,100],"labels":false,"title":null}},
"y":{"field":"y","type":"ordinal","scale":{"domain":[180,150,120,90,60,30,0,-30,-60,-90,-120,-150,-180],"paddingInner":0,"paddingOuter":0},"axis":{"orient":"right","values":[180,120,60,0,-60,-120,-180],"labels":false,"title":"Motion energy","titleFontSize":23,"titleAngle":90,"titlePadding":77,"titleY":197}},
"text":{"field":"label"}}}
]}
]}
